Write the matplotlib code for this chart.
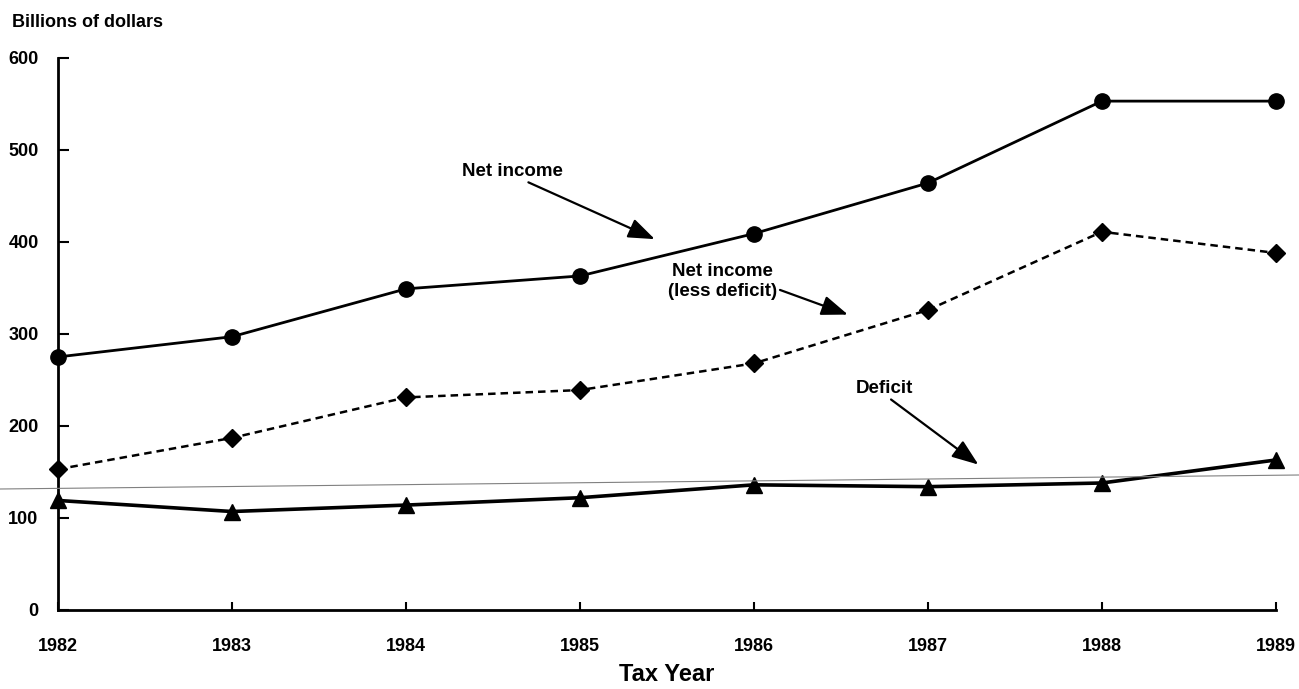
import matplotlib.pyplot as plt
from matplotlib.lines import Line2D

plt.rcParams['font.family'] = ['Liberation Sans', 'DejaVu Sans']
plt.rcParams['font.weight'] = 'bold'

years = [1982, 1983, 1984, 1985, 1986, 1987, 1988, 1989]
net_income = [275, 297, 349, 363, 409, 464, 553, 553]
net_less_deficit = [153, 187, 231, 239, 268, 326, 411, 388]
deficit = [119, 107, 114, 122, 136, 134, 138, 163]
yticks = [0, 100, 200, 300, 400, 500, 600]

fig = plt.figure(figsize=(12.99, 6.89), dpi=100)
ax = fig.add_axes([0.0447, 0.1147, 0.9375, 0.8013])

ax.plot(years, net_income, color='black', lw=2, marker='o', markersize=11, clip_on=False)
ax.plot(years, net_less_deficit, color='black', lw=1.8, ls=(0, (3, 2)), marker='D',
        markersize=9, clip_on=False)
ax.plot(years, deficit, color='black', lw=2.6, marker='^', markersize=12, clip_on=False)

ax.set_xlim(1982, 1989)
ax.set_ylim(0, 600)
ax.set_xticks(years)
ax.set_yticks(yticks)
ax.tick_params(axis='y', direction='in', length=8, width=1.5, pad=14, labelsize=13)
ax.tick_params(axis='x', direction='in', length=6, width=1.5, pad=20, labelsize=13)
for s in ['top', 'right']:
    ax.spines[s].set_visible(False)
for s in ['left', 'bottom']:
    ax.spines[s].set_linewidth(2)

ax.set_xlabel('Tax Year', fontsize=17, fontweight='bold', labelpad=6)
fig.text(0.009, 0.968, 'Billions of dollars', fontsize=13, fontweight='bold',
         ha='left', va='center')

arrow = dict(arrowstyle='-|>,head_length=1.2,head_width=0.45', color='black', lw=1.6,
             shrinkA=0, shrinkB=0)
ax.annotate('Net income', xy=(1985.43, 403), xytext=(1984.61, 477), fontsize=13.5,
            ha='center', va='center', arrowprops=dict(arrow, relpos=(0.6, 0)))
ax.annotate('Net income\n(less deficit)', xy=(1986.54, 321), xytext=(1985.82, 357),
            fontsize=13.5, ha='center', va='center', linespacing=1.25,
            arrowprops=dict(arrow, relpos=(1.0, 0.3)))
ax.annotate('Deficit', xy=(1987.29, 158), xytext=(1986.75, 241), fontsize=13.5,
            ha='center', va='center', arrowprops=dict(arrow, relpos=(0.55, 0)))

# faint scan line across the page
fig.add_artist(Line2D([0, 1], [1 - 489 / 689, 1 - 475 / 689], transform=fig.transFigure,
                      color='gray', lw=0.8))

fig.savefig('out.png', dpi=100)
